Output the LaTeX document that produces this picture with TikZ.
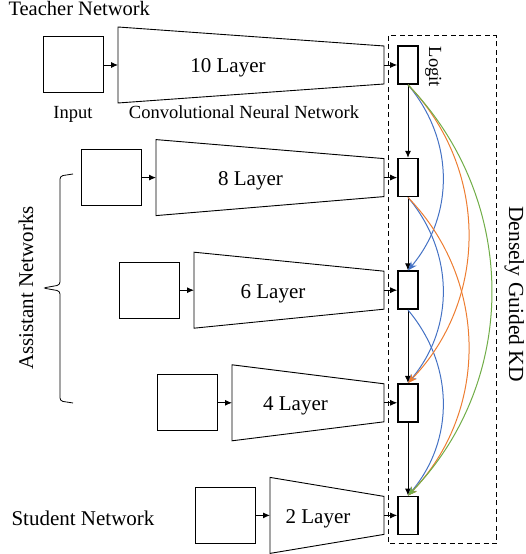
\documentclass[tikz,border=0pt]{standalone}
\usepackage{fontspec}
\setmainfont{Liberation Serif}
\usetikzlibrary{arrows.meta}
\definecolor{kdblue}{HTML}{4472C4}
\definecolor{kdorange}{HTML}{ED7D31}
\definecolor{kdgreen}{HTML}{70AD47}
\tikzset{
  inbox/.style={draw, line width=1pt, minimum width=60pt, minimum height=56pt, inner sep=0pt},
  kdbox/.style={draw, line width=1.6pt, minimum width=20pt, minimum height=38pt, inner sep=0pt, fill=white},
  layer/.style={draw, line width=0.9pt},
  arr/.style={-{Latex[length=7pt,width=6pt]}, line width=0.9pt},
  kdarr/.style={-{Stealth[length=9pt,width=7pt]}, line width=1pt},
  lblbig/.style={font=\rmfamily\fontsize{21}{24}\selectfont},
  lblsmall/.style={font=\rmfamily\fontsize{18.5}{22}\selectfont}
}

\begin{document}
\begin{tikzpicture}[x=1pt,y=1pt]
  \useasboundingbox (0,0) rectangle (526,554);
  \foreach \i/\lyr in {1/10,2/8,3/6,4/4,5/2} {
    \pgfmathsetmacro\cy{489-112.6*(\i-1)}
    \pgfmathsetmacro\bx{73+38*(\i-1)}
    \pgfmathsetmacro\lx{\bx+155-15.5*(\i-1)}
    \node[inbox] (in\i) at (\bx,\cy) {};
    \coordinate (tw\i) at (\bx+45,\cy);
    \coordinate (te\i) at (384,\cy);
    \draw[layer] (\bx+45,\cy+38) -- (384,\cy+19) -- (384,\cy-19) -- (\bx+45,\cy-38) -- cycle;
    \node[lblbig, anchor=base] (lay\i) at (\lx,\cy-8) {\lyr\ Layer};
    \node[kdbox] (kd\i) at (408,\cy) {};
    \draw[arr] (in\i) -- (tw\i);
    \draw[arr] (te\i) -- (kd\i);
  }
  \foreach \i [evaluate=\i as \j using int(\i+1)] in {1,...,4}
    \draw[arr] (kd\i) -- (kd\j);
  \foreach \s/\t/\c/\b in {1/3/kdblue/40, 2/4/kdblue/40, 3/5/kdblue/40, 1/4/kdorange/44, 2/5/kdorange/44, 1/5/kdgreen/44}
    \draw[kdarr, \c] (kd\s.south) to[bend left=\b] (kd\t.north);
  \draw[dashed, dash pattern=on 5pt off 3.5pt, line width=1pt] (388,518) rectangle (496,10);
  \draw[line width=0.8pt, rounded corners=3pt] (73,380) -- (60,378) -- (60,269) -- (43,266) -- (60,263) -- (60,153) -- (73,151);
  \node[font=\rmfamily\fontsize{20.5}{24}\selectfont, anchor=base west] (teacher) at (5,538) {Teacher Network};
  \node[lblsmall, anchor=base] (inlab) at (73,435) {Input};
  \node[lblsmall, anchor=base] (cnn) at (244,435) {Convolutional Neural Network};
  \node[lblbig, anchor=base west] (student) at (8,28) {Student Network};
  \node[lblbig, anchor=base, rotate=90] (assist) at (33,266) {Assistant Networks};
  \node[font=\rmfamily\fontsize{21.5}{24}\selectfont, anchor=base, rotate=-90] (dgkd) at (509,260) {Densely Guided KD};
  \node[lblsmall, anchor=base, rotate=-90] (logit) at (429,487) {Logit};
\end{tikzpicture}
\end{document}
